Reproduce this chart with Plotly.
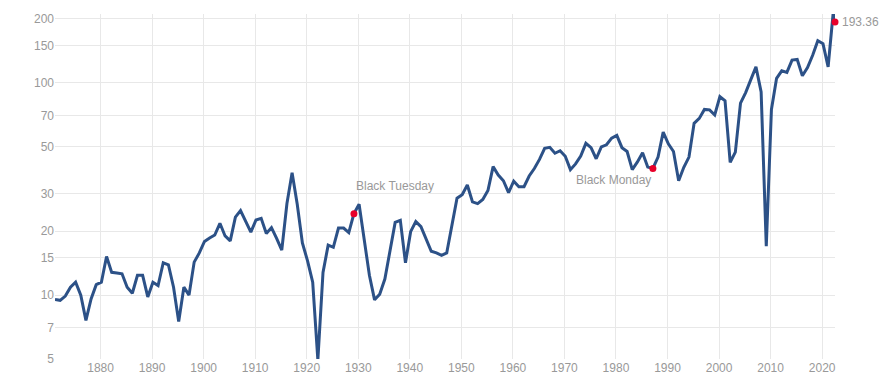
import math
import plotly.graph_objects as go

# Annual values (inflation-adjusted), positioned by year
years = list(range(1871, 2023))
values = [
    9.55, 9.45, 9.9, 10.9, 11.5, 10.0, 7.6, 9.6, 11.2,            # 1871-1879
    11.5, 15.2, 12.8, 12.7, 12.6, 10.9, 10.2, 12.4, 12.4, 9.8,    # 1880s
    11.5, 11.1, 14.2, 13.9, 10.9, 7.5, 10.9, 10.0, 14.3, 15.8,    # 1890s
    17.9, 18.6, 19.2, 21.8, 19.0, 18.0, 23.3, 25.0, 22.3, 19.8,   # 1900s
    22.6, 23.0, 19.5, 20.8, 18.5, 16.3, 27.0, 37.7, 26.8, 17.6,   # 1910s
    14.5, 11.5, 4.95, 12.8, 17.2, 16.8, 20.7, 20.7, 19.7, 24.2,   # 1920s
    26.8, 18.0, 12.4, 9.5, 10.1, 11.9, 16.2, 22.0, 22.5, 14.2,    # 1930s
    19.9, 22.2, 21.0, 18.4, 16.1, 15.8, 15.4, 15.8, 20.9, 28.6,   # 1940s
    29.7, 33.0, 27.5, 27.0, 28.2, 31.1, 40.3, 36.8, 34.6, 30.4,   # 1950s
    34.4, 32.4, 32.4, 36.4, 39.5, 43.6, 49.2, 49.7, 46.6, 47.9,   # 1960s
    45.1, 39.0, 41.5, 45.2, 51.9, 49.5, 43.9, 49.9, 51.1, 54.9,   # 1970s
    56.6, 49.5, 47.5, 39.0, 42.4, 46.8, 40.1, 39.5, 44.7, 58.6,   # 1980s
    51.6, 47.5, 34.6, 40.0, 44.7, 64.5, 68.0, 75.0, 74.6, 70.6,   # 1990s
    86.1, 82.3, 42.2, 47.2, 80.2, 90.0, 103.6, 119.0, 90.6, 17.0, # 2000s
    74.9, 105.0, 114.0, 112.0, 128.0, 129.0, 108.0, 118.0, 135.0, 158.0,  # 2010s
    153.0, 119.0, 216.0,                                           # 2020-2022
]
latest_date = "2022-07-01"
latest_value = 193.36

event_years = [1929, 1987]
event_labels = ["Black Tuesday", "Black Monday"]

dates = [f"{y}-03-01" for y in years] + [latest_date]
series = values + [latest_value]

y_ticks = [5, 7, 10, 15, 20, 30, 50, 70, 100, 150, 200]

LINE = "#2c5187"
RED = "#e8002a"
GRAY = "#999999"
FONT = "Liberation Sans, Arial, sans-serif"

fig = go.Figure()
fig.add_trace(go.Scatter(
    x=dates, y=series, mode="lines",
    line=dict(color=LINE, width=3), hoverinfo="skip", showlegend=False,
))

ev_x = [f"{y}-03-01" for y in event_years]
ev_y = [values[years.index(y)] for y in event_years]
fig.add_trace(go.Scatter(
    x=ev_x + [latest_date], y=ev_y + [latest_value], mode="markers",
    marker=dict(color=RED, size=7), hoverinfo="skip", showlegend=False,
    cliponaxis=False,
))

# annotation y on a log axis is given in log10 units
fig.add_annotation(x=ev_x[0], y=math.log10(ev_y[0]), text=event_labels[0], showarrow=False,
                   xanchor="left", yanchor="middle", xshift=0, yshift=28,
                   font=dict(color=GRAY, size=12, family=FONT))
fig.add_annotation(x=ev_x[1], y=math.log10(ev_y[1]), text=event_labels[1], showarrow=False,
                   xanchor="right", yanchor="middle", xshift=0, yshift=-12,
                   font=dict(color=GRAY, size=12, family=FONT))
fig.add_annotation(x=latest_date, y=math.log10(latest_value), text=f"{latest_value:.2f}",
                   showarrow=False, xanchor="left", yanchor="middle", xshift=5, yshift=0,
                   font=dict(color=GRAY, size=12, family=FONT))

# page body adds an 8px offset; size/margins compensate so the plot sits where the reference has it
fig.update_layout(
    width=882, height=376,
    margin=dict(l=47, r=55, t=4, b=25),
    paper_bgcolor="white", plot_bgcolor="white",
    font=dict(family=FONT, color=GRAY, size=12),
    xaxis=dict(
        type="date", range=["1871-03-01", latest_date],
        dtick="M120", tick0="1880-01-01", tickformat="%Y",
        showgrid=True, gridcolor="#e8e8e8", gridwidth=1,
        zeroline=False, showline=False, ticks="", ticklen=0,
        tickfont=dict(color=GRAY, size=12),
    ),
    yaxis=dict(
        type="log", range=[0.69897, 2.3245],
        tickvals=y_ticks, ticktext=[str(v) for v in y_ticks],
        showgrid=True, gridcolor="#e8e8e8", gridwidth=1,
        zeroline=False, showline=False, ticks="",
        tickfont=dict(color=GRAY, size=12),
    ),
)

fig.write_html("out.html")
